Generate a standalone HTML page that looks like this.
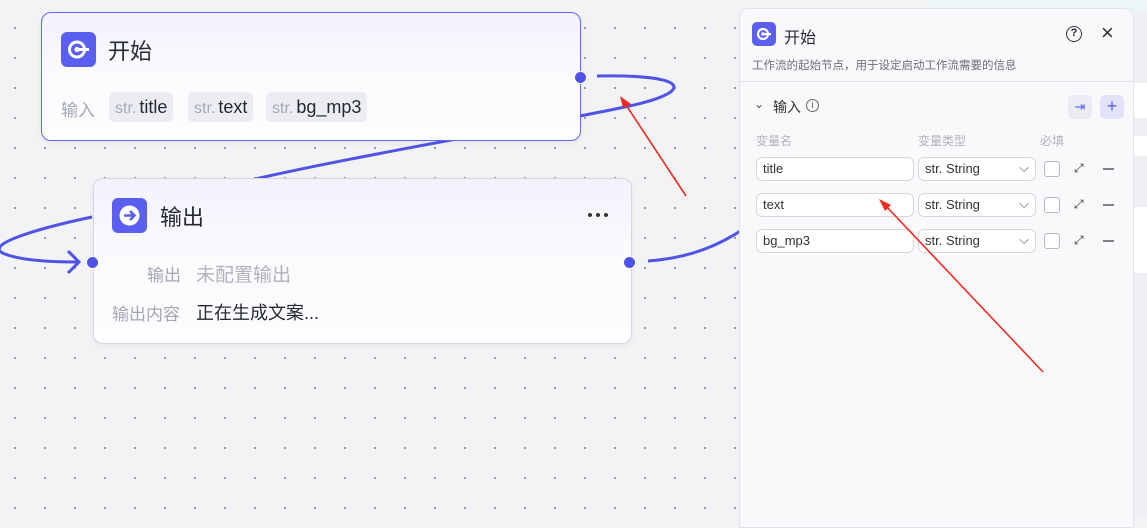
<!DOCTYPE html>
<html><head><meta charset="utf-8"><style>
*{box-sizing:border-box;margin:0;padding:0}
body{width:1147px;height:515px;overflow:hidden;position:relative;background:#f2f3f5;font-family:"Liberation Sans","Noto Sans CJK SC",sans-serif;color:#1f2329}
.grid{position:absolute;left:0;top:0;width:740px;height:515px;background-image:radial-gradient(circle,#8a8d96 0.9px,transparent 1.2px);background-size:30px 30px;background-position:0px 13px}
.node{position:absolute;border-radius:10px;background:linear-gradient(180deg,#f3f2fe 0%,#fbfbfe 50%,#fdfdff 100%);box-shadow:0 2px 6px rgba(0,0,0,.06)}
.icon{position:absolute;width:35px;height:35px;border-radius:6px;background:#5a5ff0}
.title{position:absolute;font-size:22px;color:#262a33}
.lbl{position:absolute;font-size:17px;color:#a3a6b4}
.chip{position:absolute;top:79px;height:30px;border-radius:5px;background:#ececf3;font-size:18px;line-height:30px;padding:0 6px;color:#262a33;white-space:nowrap}
.chip i{font-style:normal;color:#a6a9b8;font-size:16px;margin-right:3px}
.port{position:absolute;width:13px;height:13px;border-radius:50%;background:#4e53e6;border:1.5px solid #fff}
.panel{position:absolute;left:739px;top:8px;width:395px;height:520px;background:#f9f9fc;border:1px solid #e3e4ea;border-radius:10px 10px 0 0}
.in{position:absolute;height:24px;border:1px solid #d5d6de;border-radius:6px;background:#fff;font-size:13px;line-height:22px;padding-left:6px;color:#333}
.cb{position:absolute;width:16px;height:16px;border:1px solid #b5b7c2;border-radius:3px;background:#fff}
.col{position:absolute;top:123px;font-size:12px;color:#b0b2bb}
.minus{position:absolute;width:11px;height:1.5px;background:#80828c}
</style></head><body>
<div style="position:absolute;left:1134px;top:0;width:13px;height:515px;background:#eef0f3"></div>
<div style="position:absolute;left:1134px;top:83px;width:13px;height:35px;background:#fff"></div>
<div style="position:absolute;left:1134px;top:136px;width:13px;height:20px;background:#fff"></div>
<div style="position:absolute;left:1134px;top:207px;width:13px;height:66px;background:#fff"></div>
<div style="position:absolute;left:927px;top:0;width:220px;height:10px;background:#eaf7f6;border-radius:10px 0 0 0"></div>
<div class="grid"></div>

<svg style="position:absolute;left:0;top:0" width="760" height="515">
<path d="M597,76 C690,74 700,92 620,108 C540,125 330,160 230,185" stroke="#4f54e6" stroke-width="3" fill="none"/>
<path d="M92,217 C40,228 -20,245 5,254 C20,260 50,262 78,262" stroke="#4f54e6" stroke-width="3" fill="none"/>
<path d="M68,251 L79,262 L68,273" stroke="#4f54e6" stroke-width="3" fill="none"/>
<path d="M648,261 C690,258 720,245 745,228" stroke="#4f54e6" stroke-width="3" fill="none"/>
<line x1="686" y1="196" x2="624" y2="102" stroke="#f02a1e" stroke-width="1.6"/>
<path d="M620,96 L631,104 L623,108 Z" fill="#f02a1e"/>
</svg>

<div class="node" style="left:41px;top:12px;width:540px;height:129px;border:1.5px solid #6368f0">
 <div class="icon" style="left:19px;top:19px"><svg width="35" height="35"><circle cx="16" cy="17.5" r="7.5" fill="none" stroke="#fff" stroke-width="3"/><circle cx="16" cy="17.5" r="2.6" fill="#fff"/><rect x="16" y="16" width="12" height="3" fill="#fff"/></svg></div>
 <div class="title" style="left:66px;top:21px">开始</div>
 <div class="lbl" style="left:19px;top:83px">输入</div>
 <div class="chip" style="left:67px"><i>str.</i>title</div>
 <div class="chip" style="left:146px"><i>str.</i>text</div>
 <div class="chip" style="left:224px"><i>str.</i>bg_mp3</div>
</div>
<div class="port" style="left:574px;top:71px"></div>

<div class="node" style="left:93px;top:178px;width:539px;height:166px;border:1px solid #d6d7e3">
 <div class="icon" style="left:18px;top:19px"><svg width="35" height="35"><circle cx="17.5" cy="17.5" r="10" fill="#fff"/><path d="M12,17.5 H22 M18,13 L22.5,17.5 L18,22" stroke="#5a5ff0" stroke-width="2.6" fill="none"/></svg></div>
 <div class="title" style="left:66px;top:21px">输出</div>
 <div style="position:absolute;left:492px;top:34px;width:24px;height:4px;background:radial-gradient(circle,#333 1.8px,transparent 2.2px);background-size:8px 4px"></div>
 <div class="lbl" style="left:53px;top:82px">输出</div>
 <div class="lbl" style="left:102px;top:81px;font-size:19px;color:#b0b2bd">未配置输出</div>
 <div class="lbl" style="left:18px;top:121px">输出内容</div>
 <div class="lbl" style="left:102px;top:120px;font-size:18px;color:#262a33">正在生成文案...</div>
</div>
<div class="port" style="left:86px;top:256px"></div>
<div class="port" style="left:623px;top:256px"></div>

<div class="panel">
 <div class="icon" style="left:12px;top:13px;width:24px;height:24px;border-radius:5px"><svg width="24" height="24"><circle cx="11" cy="12" r="5" fill="none" stroke="#fff" stroke-width="2.2"/><circle cx="11" cy="12" r="1.8" fill="#fff"/><rect x="11" y="11" width="8" height="2.2" fill="#fff"/></svg></div>
 <div style="position:absolute;left:44px;top:15px;font-size:16px;color:#262a33">开始</div>
 <div style="position:absolute;left:326px;top:17px;width:16px;height:16px;border:1.7px solid #333;border-radius:50%;font-size:11px;font-weight:bold;text-align:center;line-height:13px">?</div>
 <div style="position:absolute;left:361px;top:11px;font-size:22px;color:#333">×</div>
 <div style="position:absolute;left:12px;top:48px;font-size:11.5px;color:#6b6e78">工作流的起始节点，用于设定启动工作流需要的信息</div>
 <div style="position:absolute;left:0;top:72px;width:393px;height:1px;background:#dcdde6"></div>
 <div style="position:absolute;left:14px;top:88px;font-size:12px;color:#555">⌄</div>
 <div style="position:absolute;left:33px;top:88px;font-size:14px;color:#333">输入</div>
 <div style="position:absolute;left:66px;top:90px;width:13px;height:13px;border:1px solid #666;border-radius:50%;font-size:9px;text-align:center;line-height:11px;color:#555">i</div>
 <div style="position:absolute;left:328px;top:86px;width:24px;height:24px;border-radius:5px;background:#ebebf3;color:#5a5ff0;font-size:13px;text-align:center;line-height:24px">⇥</div>
 <div style="position:absolute;left:360px;top:86px;width:24px;height:24px;border-radius:5px;background:#e2e2fb;color:#5a5ff0;font-size:18px;text-align:center;line-height:23px">+</div>
 <div class="col" style="left:16px">变量名</div>
 <div class="col" style="left:178px">变量类型</div>
 <div class="col" style="left:300px">必填</div>
 <div class="in" style="left:16px;top:148px;width:158px">title</div>
 <div class="in" style="left:16px;top:184px;width:158px">text</div>
 <div class="in" style="left:16px;top:220px;width:158px">bg_mp3</div>
 <div class="in" style="left:178px;top:148px;width:118px">str. String<span style="position:absolute;right:6px;top:-1px;color:#555">⌵</span></div>
 <div class="in" style="left:178px;top:184px;width:118px">str. String<span style="position:absolute;right:6px;top:-1px;color:#555">⌵</span></div>
 <div class="in" style="left:178px;top:220px;width:118px">str. String<span style="position:absolute;right:6px;top:-1px;color:#555">⌵</span></div>
 <div class="cb" style="left:304px;top:152px"></div>
 <div class="cb" style="left:304px;top:188px"></div>
 <div class="cb" style="left:304px;top:224px"></div>
 <div style="position:absolute;left:334px;top:152px;font-size:12px;color:#333">⤢</div>
 <div style="position:absolute;left:334px;top:188px;font-size:12px;color:#333">⤢</div>
 <div style="position:absolute;left:334px;top:224px;font-size:12px;color:#333">⤢</div>
 <div class="minus" style="left:363px;top:159px"></div>
 <div class="minus" style="left:363px;top:195px"></div>
 <div class="minus" style="left:363px;top:231px"></div>
</div>

<svg style="position:absolute;left:0;top:0" width="1147" height="515">
<line x1="1043" y1="372" x2="885" y2="205" stroke="#f02a1e" stroke-width="1.6"/>
<path d="M879,199 L891,205 L885,211 Z" fill="#f02a1e"/>
</svg>
</body></html>
